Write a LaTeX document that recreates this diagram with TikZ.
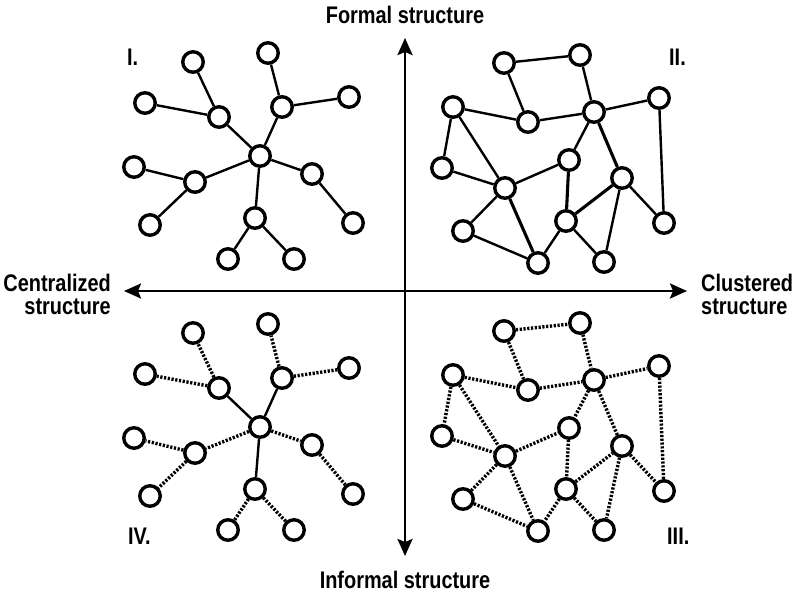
\documentclass[tikz,border=0pt]{standalone}
\usepackage{fontspec}
\newfontfamily\labfont{Liberation Sans}[FakeStretch=0.83]
\usetikzlibrary{arrows.meta}
\tikzset{
  nd/.style={circle, draw=black, fill=white, line width=3.4pt, minimum size=20.5pt, inner sep=0pt},
  ed/.style={line width=2.4pt},
  edthick/.style={line width=3.1pt},
  dotedge/.style={line width=3.4pt, dash pattern=on 2.2pt off 1.6pt},
  axis/.style={line width=2.6pt, {Stealth[length=17pt,width=15pt,inset=3pt]}-{Stealth[length=17pt,width=15pt,inset=3pt]}},
  lab/.style={font=\labfont\bfseries\fontsize{24}{23}\selectfont, inner sep=0pt}
}
\newcommand\starnodes[2]{%
 \begin{scope}[yshift=#2]
  \node[nd] (#1hub) at (260,156) {};
  \node[nd] (#1ul)  at (219,117) {};
  \node[nd] (#1ult) at (193,62) {};
  \node[nd] (#1ulf) at (145,103) {};
  \node[nd] (#1ur)  at (282,107) {};
  \node[nd] (#1urt) at (268,53) {};
  \node[nd] (#1urf) at (349,97) {};
  \node[nd] (#1lm)  at (195,182) {};
  \node[nd] (#1lmf) at (134,167) {};
  \node[nd] (#1lml) at (150,225) {};
  \node[nd] (#1rm)  at (312,174) {};
  \node[nd] (#1rml) at (353,223) {};
  \node[nd] (#1bm)  at (255,218) {};
  \node[nd] (#1bml) at (228,259) {};
  \node[nd] (#1bmr) at (294,259) {};
 \end{scope}}
\newcommand\clusternodes[2]{%
 \begin{scope}[yshift=#2]
  \node[nd] (#1A) at (504,63) {};
  \node[nd] (#1B) at (580,55) {};
  \node[nd] (#1C) at (453,107) {};
  \node[nd] (#1D) at (528,122) {};
  \node[nd] (#1E) at (594,112) {};
  \node[nd] (#1F) at (659,98) {};
  \node[nd] (#1G) at (442,168) {};
  \node[nd] (#1H) at (569,160) {};
  \node[nd] (#1I) at (505,188) {};
  \node[nd] (#1J) at (622,178) {};
  \node[nd] (#1K) at (463,231) {};
  \node[nd] (#1L) at (566,221) {};
  \node[nd] (#1M) at (664,223) {};
  \node[nd] (#1N) at (538,263) {};
  \node[nd] (#1O) at (604,262) {};
 \end{scope}}
\begin{document}
\begin{tikzpicture}[x=1pt,y=-1pt]
\useasboundingbox (0,0) rectangle (792,595);
% axes
\coordinate (vt) at (405,38);
\coordinate (vb) at (405,556);
\coordinate (hl) at (124,291);
\coordinate (hr) at (687,291);
\draw[axis] (vt) -- (vb);
\draw[axis] (hl) -- (hr);
% labels
\node[lab, anchor=base] (formal) at (405,23) {Formal structure};
\node[lab, anchor=base] (informal) at (405,588) {Informal structure};
\node[lab, anchor=north east, align=right] (central) at (111,274) {Centralized\\structure};
\node[lab, anchor=north west, align=left] (cluster) at (701,274) {Clustered\\structure};
\node[lab, anchor=base west] (q1) at (127,65) {I.};
\node[lab, anchor=base west] (q2) at (669,65) {II.};
\node[lab, anchor=base west] (q3) at (667,544) {III.};
\node[lab, anchor=base west] (q4) at (128,544) {IV.};
% nodes
\starnodes{s}{0pt}
\starnodes{t}{-271pt}
\clusternodes{c}{0pt}
\clusternodes{d}{-268pt}
% quadrant I edges
\draw[ed] (shub)--(sul) (sul)--(sult) (sul)--(sulf)
  (shub)--(sur) (sur)--(surt) (sur)--(surf)
  (shub)--(slm) (slm)--(slmf) (slm)--(slml)
  (shub)--(srm) (srm)--(srml)
  (shub)--(sbm) (sbm)--(sbml) (sbm)--(sbmr);
% quadrant IV edges
\draw[ed] (thub)--(tul) (thub)--(tur) (thub)--(tbm);
\draw[dotedge] (tul)--(tult) (tul)--(tulf)
  (tur)--(turt) (tur)--(turf)
  (thub)--(tlm) (tlm)--(tlmf) (tlm)--(tlml)
  (thub)--(trm) (trm)--(trml)
  (tbm)--(tbml) (tbm)--(tbmr);
% quadrant II edges
\draw[ed] (cA)--(cB) (cA)--(cD) (cB)--(cE) (cC)--(cD) (cD)--(cE) (cE)--(cF)
  (cF)--(cM) (cC)--(cG) (cC)--(cI) (cG)--(cI) (cI)--(cH) (cE)--(cH)
  (cJ)--(cM) (cJ)--(cO) (cL)--(cO) (cL)--(cN) (cI)--(cK) (cK)--(cN);
\draw[edthick] (cE)--(cJ) (cH)--(cL) (cL)--(cJ) (cI)--(cN);
% quadrant III edges
\draw[dotedge] (dA)--(dB) (dA)--(dD) (dB)--(dE) (dC)--(dD) (dD)--(dE) (dE)--(dF)
  (dF)--(dM) (dC)--(dG) (dC)--(dI) (dG)--(dI) (dI)--(dH) (dE)--(dH)
  (dJ)--(dM) (dJ)--(dO) (dL)--(dO) (dL)--(dN) (dI)--(dK) (dK)--(dN)
  (dE)--(dJ) (dH)--(dL) (dL)--(dJ) (dI)--(dN);
\end{tikzpicture}
\end{document}
